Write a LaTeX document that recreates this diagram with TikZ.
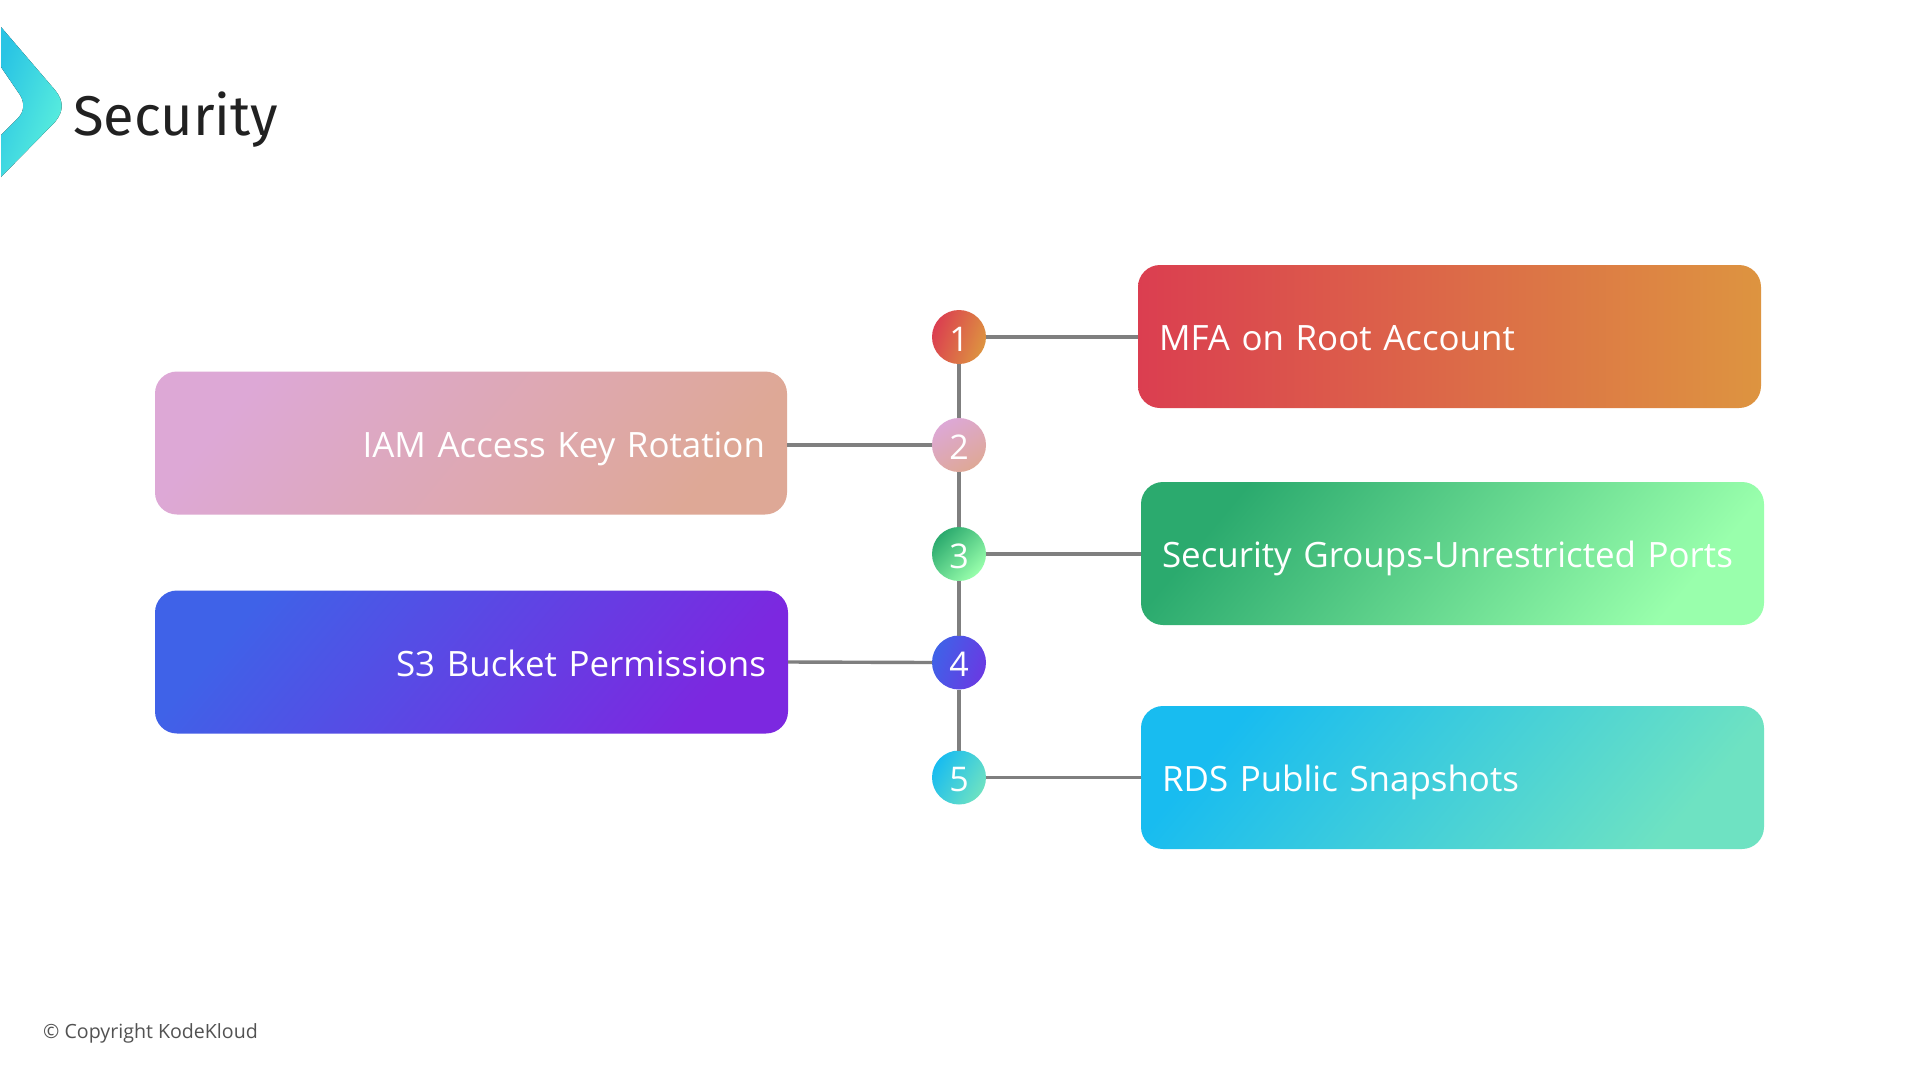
\documentclass[tikz,border=0pt]{standalone}
\usepackage{fontspec}
\setmainfont{Open Sans}
\newfontfamily\titlefont{Fira Sans}
\tikzset{
  boxnode/.style={rounded corners=22pt, outer sep=0pt, inner sep=0pt, minimum height=143pt, text height=36pt, text depth=8pt, align=left, text=white, font=\fontsize{34.9}{40}\selectfont},
  numnode/.style={circle, outer sep=0pt, inner sep=0pt, minimum size=54pt, text height=36pt, text depth=8pt, text=white, font=\fontsize{34}{40}\selectfont},
  conn/.style={draw=linegray, line width=3.4pt},
}
\definecolor{linegray}{HTML}{7F7F7F}
\definecolor{ra}{HTML}{DB3E50}\definecolor{rb}{HTML}{DD9440}
\definecolor{pa}{HTML}{DDA8D6}\definecolor{pb}{HTML}{DEA896}
\definecolor{ga}{HTML}{2BAA6E}\definecolor{gb}{HTML}{99FFAC}
\definecolor{ba}{HTML}{3F62E8}\definecolor{bb}{HTML}{7C28E0}
\definecolor{ca}{HTML}{18BCF0}\definecolor{cb}{HTML}{6EE2C2}
\definecolor{la}{HTML}{29C4E4}\definecolor{lb}{HTML}{5EF2DC}
\begin{document}
\begin{tikzpicture}[x=1pt,y=-1pt]
\useasboundingbox (0,0) rectangle (1920,1080);
\fill[white] (0,0) rectangle (1920,1080);
% logo
\fill[left color=la,right color=lb,shading angle=70]
  (1,27) -- (55,90) .. controls (64,101) and (64,111) .. (55,122) -- (1,177) -- (1,135)
  -- (18,118) .. controls (25,111) and (25,101) .. (18,92) -- (1,67) -- cycle;
\node[anchor=base west, inner sep=0pt, text=black!87, font=\titlefont\fontsize{56}{60}\selectfont] (title) at (73,135) {Security};
% boxes
\node[boxnode, minimum width=623pt, text width=581pt, left color=ra, middle color=rb!70!ra, right color=rb] (b1) at (1449.5,336.5) {MFA on Root Account};
\node[boxnode, minimum width=632pt, text width=588pt, align=right, left color=pa, right color=pb, shading angle=50] (b2) at (471,443) {IAM Access Key Rotation};
\node[boxnode, minimum width=623pt, text width=581pt, left color=ga, middle color=gb!85!ga, right color=gb, shading angle=50] (b3) at (1452.5,553.5) {Security Groups-Unrestricted Ports};
\node[boxnode, minimum width=633pt, text width=589pt, align=right, left color=ba, right color=bb, shading angle=50] (b4) at (471.5,662) {S3 Bucket Permissions};
\node[boxnode, minimum width=623pt, text width=581pt, left color=ca, right color=cb, shading angle=50] (b5) at (1452.5,777.5) {RDS Public Snapshots};
% circles
\node[numnode, left color=ra, middle color=rb!80!ra, right color=rb, shading angle=70] (n1) at (959,337) {1};
\node[numnode, left color=pa, right color=pb, shading angle=30] (n2) at (959,445) {2};
\node[numnode, left color=ga, middle color=gb!70!ga, right color=gb, shading angle=45] (n3) at (959,554) {3};
\node[numnode, left color=ba, right color=bb!70!ba, shading angle=70] (n4) at (959,662.5) {4};
\node[numnode, left color=ca, right color=cb, shading angle=60] (n5) at (959,777.5) {5};
% connectors
\draw[conn] (n1) -- (n2);
\draw[conn] (n2) -- (n3);
\draw[conn] (n3) -- (n4);
\draw[conn] (n4) -- (n5);
\draw[conn] (n1.east) -- (n1.east -| b1.west);
\draw[conn] (b2.east |- n2.west) -- (n2.west);
\draw[conn] (n3.east) -- (n3.east -| b3.west);
\draw[conn] (b4.east) -- (n4.west);
\draw[conn] (n5.east) -- (n5.east -| b5.west);
% footer
\node[anchor=base west, inner sep=0pt, text=black!68, font=\fontsize{19.6}{22}\selectfont] (copy) at (43,1038) {© Copyright KodeKloud};
\end{tikzpicture}
\end{document}
